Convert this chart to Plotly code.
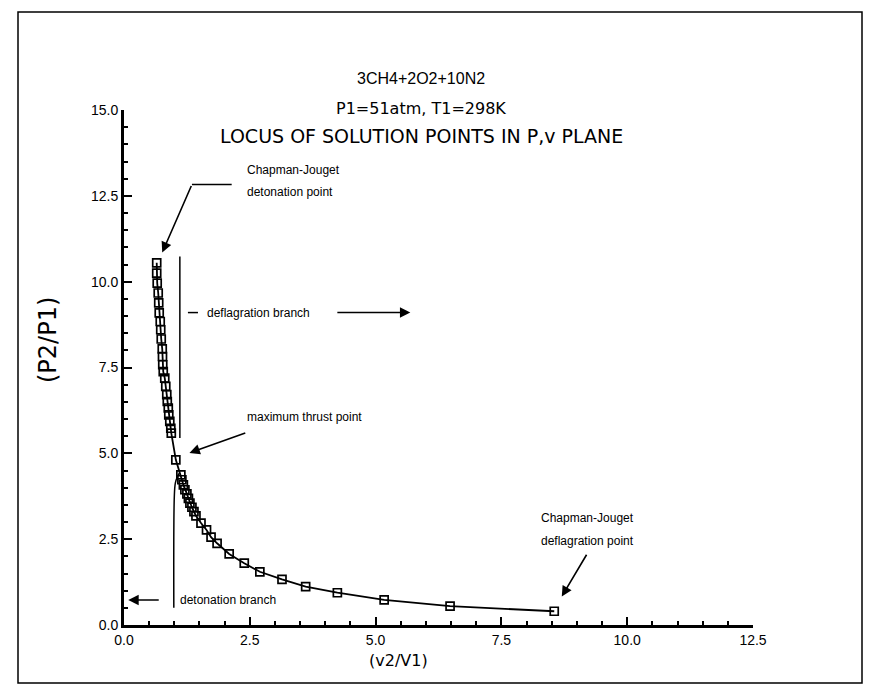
import plotly.graph_objects as go

# ---- data ----
V_RATIO = [0.65, 0.65, 0.66, 0.68, 0.69, 0.70, 0.72, 0.73, 0.74, 0.76, 0.765, 0.77, 0.78, 0.81,
           0.83, 0.85, 0.86, 0.88, 0.89, 0.91, 0.93, 0.94, 1.03, 1.13, 1.15, 1.18, 1.21,
           1.25, 1.28, 1.31, 1.35, 1.39, 1.43, 1.53, 1.64, 1.73, 1.85, 2.09, 2.39, 2.70,
           3.14, 3.61, 4.24, 5.17, 6.48, 8.55]
P_RATIO = [10.55, 10.25, 9.96, 9.67, 9.38, 9.09, 8.84, 8.60, 8.33, 8.04, 7.82, 7.58, 7.38, 7.19,
           6.95, 6.71, 6.51, 6.32, 6.12, 5.93, 5.73, 5.59, 4.81, 4.37, 4.23, 4.08, 3.94,
           3.82, 3.69, 3.55, 3.43, 3.30, 3.18, 2.97, 2.77, 2.56, 2.38, 2.07, 1.80, 1.55,
           1.33, 1.12, 0.94, 0.73, 0.55, 0.40]

TITLE_LINES = ["3CH4+2O2+10N2", "P1=51atm, T1=298K", "LOCUS OF SOLUTION POINTS IN P,v PLANE"]
X_TICKS = [0.0, 2.5, 5.0, 7.5, 10.0, 12.5]
Y_TICKS = [0.0, 2.5, 5.0, 7.5, 10.0, 12.5, 15.0]

# branch separator lines (data coords)
DEFL_LINE_X = [1.11, 1.11]
DEFL_LINE_Y = [5.45, 10.73]
DET_LINE_X = [1.10, 1.06, 1.02, 1.00, 0.99]
DET_LINE_Y = [4.42, 4.32, 4.13, 3.74, 0.50]

FONT = "Liberation Sans, Arial, Helvetica, sans-serif"
WIDE = "DejaVu Sans, Verdana, sans-serif"

fig = go.Figure()

fig.add_trace(go.Scatter(
    x=V_RATIO, y=P_RATIO, mode="lines+markers",
    line=dict(color="black", width=1.8),
    marker=dict(symbol="square-open", size=8, color="black", line=dict(width=1.7)),
    hoverinfo="skip", showlegend=False))

fig.add_trace(go.Scatter(x=DEFL_LINE_X, y=DEFL_LINE_Y, mode="lines",
                         line=dict(color="black", width=1.5), hoverinfo="skip", showlegend=False))
fig.add_trace(go.Scatter(x=DET_LINE_X, y=DET_LINE_Y, mode="lines", line_shape="spline",
                         line=dict(color="black", width=1.5), hoverinfo="skip", showlegend=False))

# plot area in pixels: x 124..753, y 110..625
L, R, T, B = 124, 124, 110, 63
W, H = 877, 688
PW, PH = W - L - R, H - T - B


def px(xp):
    return (xp - L) / PW


def py(yp):
    return (H - B - yp) / PH


ann = []
title_fonts = [dict(family=FONT, size=16, color="black"),
               dict(family=WIDE, size=16, color="black"),
               dict(family=WIDE, size=19, color="black")]
for txt, yp, f in zip(TITLE_LINES, [79, 108, 136], title_fonts):
    ann.append(dict(text=txt, xref="paper", yref="paper", x=px(421), y=py(yp),
                    showarrow=False, font=f, xanchor="center", yanchor="middle"))

ann.append(dict(text="(P2/P1)", xref="paper", yref="paper", x=px(48), y=py(340),
                textangle=-90, showarrow=False, xanchor="center", yanchor="middle",
                font=dict(family=WIDE, size=24, color="black")))
ann.append(dict(text="(v2/V1)", xref="paper", yref="paper", x=px(398), y=py(660),
                showarrow=False, yanchor="middle", borderpad=0,
                font=dict(family=WIDE, size=16, color="black")))

sfont = dict(family=FONT, size=12, color="black")


def label(txt, x, y, xanchor="left"):
    ann.append(dict(text=txt, x=x, y=y, xref="x", yref="y", showarrow=False,
                    font=sfont, xanchor=xanchor, yanchor="middle"))


def arrow(x0, y0, x1, y1):
    ann.append(dict(text="", x=x1, y=y1, ax=x0, ay=y0, xref="x", yref="y",
                    axref="x", ayref="y", showarrow=True, arrowhead=2, arrowsize=1.3,
                    arrowwidth=1.6, arrowcolor="black", standoff=0))


# CJ detonation point
label("Chapman-Jouget", 2.41, 13.24)
label("detonation point", 2.41, 12.62)
arrow(1.35, 12.83, 0.76, 10.85)

# deflagration branch
label("deflagration branch", 1.61, 9.10)
arrow(4.21, 9.10, 5.69, 9.10)

# maximum thrust point
label("maximum thrust point", 2.40, 6.05)
arrow(2.44, 5.61, 1.30, 5.01)

# CJ deflagration point
label("Chapman-Jouget", 9.22, 3.12, "center")
label("deflagration point", 9.22, 2.45, "center")
arrow(9.21, 2.09, 8.70, 0.83)

# detonation branch
label("detonation branch", 1.07, 0.73)
arrow(0.72, 0.73, 0.085, 0.73)

shapes = [
    dict(type="line", xref="x", yref="y", x0=1.35, y0=12.83, x1=2.14, y1=12.83,
         line=dict(color="black", width=1.5)),
    dict(type="line", xref="x", yref="y", x0=1.27, y0=9.10, x1=1.47, y1=9.10,
         line=dict(color="black", width=1.5)),
    dict(type="rect", xref="paper", yref="paper", x0=px(18), x1=px(862),
         y0=py(683), y1=py(12), line=dict(color="black", width=1.5)),
]

axis_common = dict(
    showgrid=False, zeroline=False, showline=True, linecolor="black", linewidth=3,
    ticks="inside", ticklen=8, tickwidth=2, tickcolor="black", tickformat=".1f",
    tickfont=dict(family=FONT, size=14, color="black"),
    minor=dict(ticks="inside", dtick=0.5, ticklen=4, tickwidth=1.5, tickcolor="black"),
    mirror=False, fixedrange=True,
)

fig.update_layout(
    width=W, height=H, margin=dict(l=L, r=R, t=T, b=B),
    paper_bgcolor="white", plot_bgcolor="white",
    xaxis=dict(range=[0, 12.5], tickvals=X_TICKS, **axis_common),
    yaxis=dict(range=[0, 15], tickvals=Y_TICKS, **axis_common),
    annotations=ann, shapes=shapes, showlegend=False,
)

fig.write_html("out.html")
